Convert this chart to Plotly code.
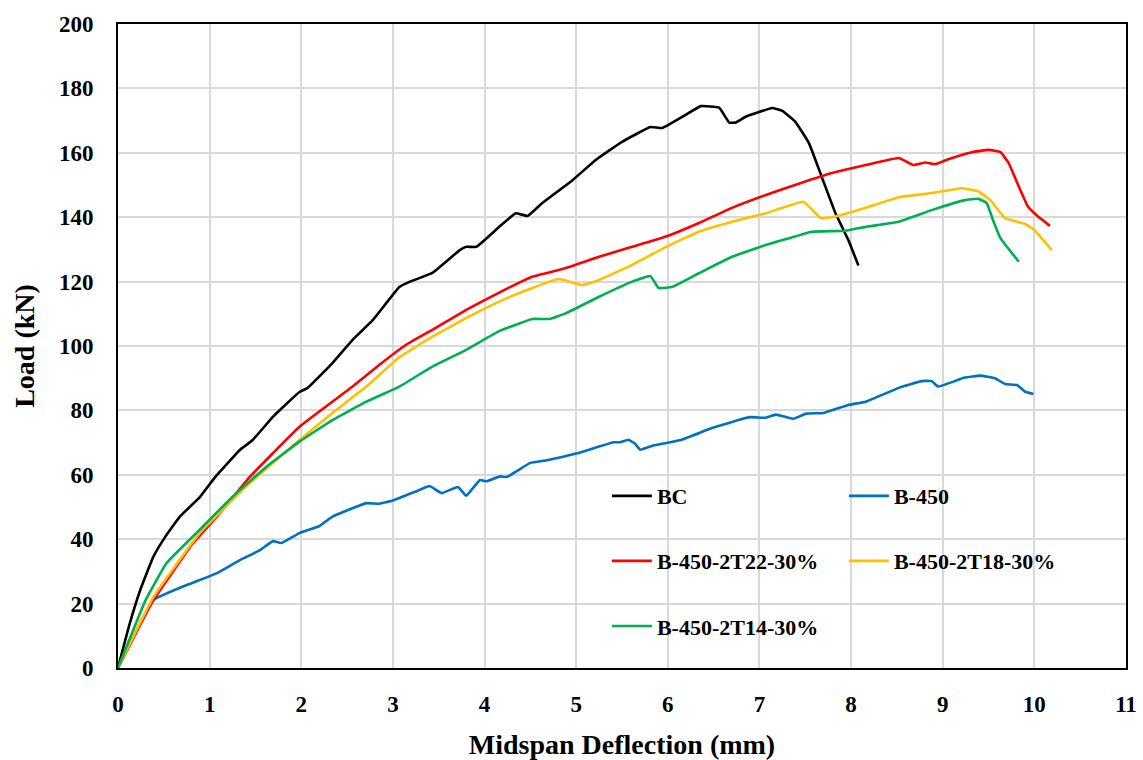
import plotly.graph_objects as go

# ---- data ----
bc_x = [0, 0.12, 0.24, 0.385, 0.51, 0.675, 0.89, 1.06, 1.33, 1.47, 1.69, 1.98, 2.07, 2.34, 2.56,
        2.78, 3.07, 3.18, 3.43, 3.73, 3.80, 3.91, 4.16, 4.34, 4.47, 4.63, 4.96, 5.21, 5.50, 5.81,
        5.94, 6.19, 6.36, 6.56, 6.67, 6.74, 6.85, 7.14, 7.25, 7.39, 7.54, 7.68, 7.83, 7.97, 8.08]
bc_y = [0, 13, 24, 34.5, 40.5, 47, 53, 59.3, 67.7, 70.8, 78, 85.7, 87, 94.7, 101.9,
        108, 118.3, 119.9, 122.7, 129.8, 130.8, 130.8, 137, 141.2, 140.4, 144.4, 151.5, 157.7, 163.4, 168,
        167.7, 171.7, 174.5, 174, 169.4, 169.4, 171.2, 173.9, 173, 169.7, 163, 152.5, 141.2, 132.9, 125]

b450_x = [0, 0.385, 0.71, 1.075, 1.33, 1.55, 1.69, 1.78, 1.98, 2.20, 2.34, 2.71, 2.85, 3.0, 3.29, 3.40,
          3.53, 3.71, 3.80, 3.95, 4.02, 4.17, 4.24, 4.50, 4.68, 5.0, 5.41, 5.48, 5.57, 5.64, 5.70,
          5.84, 6.13, 6.49, 6.89, 7.06, 7.18, 7.37, 7.51, 7.70, 7.97, 8.16, 8.52, 8.77, 8.88, 8.95,
          9.24, 9.41, 9.57, 9.68, 9.81, 9.90, 9.99]
b450_y = [0, 21.1, 25.3, 29.4, 33.5, 36.6, 39.4, 38.8, 41.9, 44.1, 47, 51.2, 51, 52, 55.3, 56.5,
          54.3, 56.2, 53.5, 58.4, 58, 59.5, 59.3, 63.7, 64.5, 66.6, 70.1, 70.1, 70.9, 69.7, 67.8,
          69.1, 70.7, 74.6, 77.9, 77.7, 78.7, 77.4, 79, 79.2, 81.7, 82.7, 87, 89.1, 89.1, 87.4,
          90.2, 90.8, 90, 88.2, 87.9, 85.8, 85.1]

t22_x = [0, 0.385, 0.82, 1.11, 1.44, 1.69, 1.98, 2.27, 2.56, 2.85, 3.14, 3.43, 3.80, 4.16, 4.52, 4.89,
         5.25, 5.61, 5.98, 6.34, 6.70, 7.07, 7.43, 7.79, 8.16, 8.52, 8.68, 8.81, 8.92, 9.06, 9.32,
         9.50, 9.63, 9.72, 9.83, 9.93, 10.04, 10.17]
t22_y = [0, 21, 38.8, 48, 59.4, 66.7, 74.9, 81.2, 87.4, 94.1, 100.3, 105, 111.2, 116.6, 121.5, 124.2,
         127.7, 130.8, 134, 138.2, 142.9, 146.9, 150.4, 153.7, 156.2, 158.4, 156.2, 157, 156.5, 158, 160.2,
         160.9, 160.2, 156.8, 149.5, 143.3, 140.2, 137.3]

t18_x = [0, 0.385, 0.89, 1.44, 1.98, 2.34, 2.71, 3.07, 3.43, 3.80, 4.16, 4.52, 4.81, 5.07, 5.25, 5.61,
         5.98, 6.34, 6.70, 7.07, 7.48, 7.67, 7.83, 8.16, 8.52, 8.88, 9.21, 9.39, 9.52, 9.68, 9.90,
         10.0, 10.19]
t18_y = [0, 22, 41.9, 57.4, 70.8, 79.2, 87.4, 96.5, 102.9, 108.7, 113.8, 118, 120.8, 118.9, 120.5, 125.2,
         130.8, 135.5, 138.6, 141.2, 144.8, 139.7, 140.2, 142.9, 146.2, 147.5, 149, 148, 145.3, 139.7, 137.9,
         136, 129.8]

t14_x = [0, 0.3, 0.53, 0.89, 1.25, 1.62, 1.98, 2.34, 2.71, 3.07, 3.43, 3.80, 4.16, 4.52, 4.71, 4.89,
         5.25, 5.61, 5.81, 5.90, 6.05, 6.34, 6.70, 7.07, 7.39, 7.57, 7.94, 8.16, 8.52, 8.88, 9.24,
         9.39, 9.48, 9.55, 9.63, 9.70, 9.83]
t14_y = [0, 21, 32.6, 42.9, 53.2, 62.5, 70.3, 77, 82.7, 87.4, 93.6, 98.8, 104.6, 108.4, 108.4, 110.2,
         115.3, 120, 121.7, 118, 118.4, 122.6, 127.7, 131.4, 134, 135.5, 135.8, 137, 138.6, 142.2, 145.3,
         145.7, 144.4, 139, 133.5, 130.8, 126.2]

x_ticks = list(range(0, 12))
y_ticks = list(range(0, 201, 20))

FONT = "Liberation Serif"

series = [
    ("BC", bc_x, bc_y, "#000000", "legend"),
    ("B-450", b450_x, b450_y, "#0070C0", "legend"),
    ("B-450-2T22-30%", t22_x, t22_y, "#FF0000", "legend2"),
    ("B-450-2T18-30%", t18_x, t18_y, "#FFC000", "legend2"),
    ("B-450-2T14-30%", t14_x, t14_y, "#00B050", "legend3"),
]

fig = go.Figure()
for name, xs, ys, col, lg in series:
    fig.add_trace(go.Scatter(x=xs, y=ys, mode="lines", name=name,
                             line=dict(color=col, width=2.6, shape="spline", smoothing=0.3),
                             legend=lg))

leg_common = dict(orientation="h", xanchor="left", yanchor="middle",
                  bgcolor="rgba(0,0,0,0)", entrywidth=182, entrywidthmode="pixels",
                  font=dict(family=FONT, size=22, color="black", weight="bold"), itemwidth=40,
                  traceorder="normal")

fig.update_layout(
    width=1143, height=760,
    margin=dict(l=118, r=17, t=24, b=92, autoexpand=False),
    paper_bgcolor="white", plot_bgcolor="white",
    font=dict(family=FONT, color="black"),
    legend=dict(x=0.485, y=0.267, **leg_common),
    legend2=dict(x=0.485, y=0.166, **leg_common),
    legend3=dict(x=0.485, y=0.065, **leg_common),
    shapes=[dict(type="rect", xref="paper", yref="paper", x0=0.478, x1=0.947,
                 y0=0.012, y1=0.315, fillcolor="white", line=dict(width=0), layer="between")],
    xaxis=dict(range=[0, 11], tickvals=x_ticks, showgrid=True, gridcolor="#d9d9d9", gridwidth=1.5,
               showline=True, linecolor="black", linewidth=2, mirror=True, zeroline=False,
               ticks="", ticklabelstandoff=14,
               tickfont=dict(family=FONT, size=23, color="black", weight="bold"),
               title=dict(text="<b>Midspan Deflection (mm)</b>", standoff=22,
                          font=dict(family=FONT, size=28, color="black"))),
    yaxis=dict(range=[0, 200], tickvals=y_ticks, showgrid=True, gridcolor="#d9d9d9", gridwidth=1.5,
               showline=True, linecolor="black", linewidth=2, mirror=True, zeroline=False,
               ticks="", ticklabelstandoff=18,
               tickfont=dict(family=FONT, size=23, color="black", weight="bold"),
               title=dict(text="<b>Load (kN)</b>", standoff=16,
                          font=dict(family=FONT, size=28, color="black"))),
)

fig.write_html("out.html")
